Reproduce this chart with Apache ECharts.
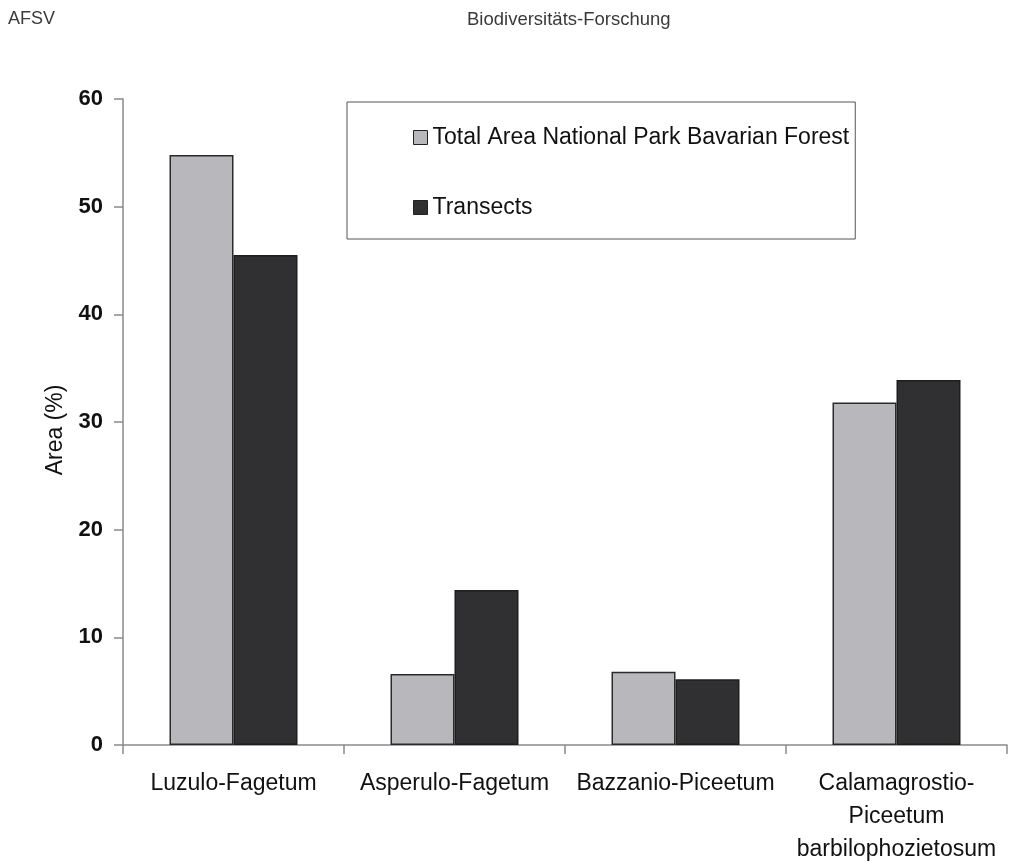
<!DOCTYPE html>
<html>
<head>
<meta charset="utf-8">
<title>Area of forest communities</title>
<script src="https://cdn.jsdelivr.net/npm/echarts@6/dist/echarts.min.js"></script>
<style>
  html, body { margin: 0; padding: 0; background: #ffffff; }
  #chart { width: 1009px; height: 861px; }
</style>
</head>
<body>
<div id="chart"></div>
<script>
// Forest community types (x axis categories)
const categories = [
  'Luzulo-Fagetum',
  'Asperulo-Fagetum',
  'Bazzanio-Piceetum',
  'Calamagrostio-\nPiceetum\nbarbilophozietosum'
];
// Share of area (%) for each community
const totalAreaValues = [54.8, 6.6, 6.8, 31.8];
const transectValues = [45.5, 14.4, 6.1, 33.9];
const seriesNames = ['Total Area National Park Bavarian Forest', 'Transects'];
const yTicks = { min: 0, max: 60, interval: 10 };

const fontFamily = '"Liberation Sans", Arial, Helvetica, sans-serif';

const chart = echarts.init(document.getElementById('chart'), null, { renderer: 'canvas' });

chart.setOption({
  animation: false,
  backgroundColor: '#ffffff',
  textStyle: { fontFamily: fontFamily },
  title: [
    {
      text: 'AFSV', left: 8, top: 10, padding: 0,
      textStyle: { fontSize: 18, fontWeight: 'normal', color: '#3a3a3a', fontFamily: fontFamily }
    },
    {
      text: 'Biodiversitäts-Forschung', left: 467, top: 10, padding: 0,
      textStyle: { fontSize: 18.5, fontWeight: 'normal', color: '#3a3a3a', fontFamily: fontFamily }
    }
  ],
  legend: {
    orient: 'vertical',
    left: 347,
    top: 102,
    padding: [24, 6, 20, 66],
    itemGap: 47,
    itemWidth: 14,
    itemHeight: 14,
    icon: 'rect',
    itemStyle: { borderColor: '#222', borderWidth: 1 },
    borderColor: '#555',
    borderWidth: 1,
    backgroundColor: '#ffffff',
    textStyle: { fontSize: 23, lineHeight: 23, color: '#111', fontFamily: fontFamily },
    data: seriesNames
  },
  grid: { left: 123, right: 2, top: 99, bottom: 116, containLabel: false, outerBoundsMode: 'none' },
  xAxis: {
    type: 'category',
    data: categories,
    axisLine: { show: true, lineStyle: { color: '#8a8a8a', width: 1.5 } },
    axisTick: { show: true, length: 9, lineStyle: { color: '#8a8a8a', width: 1.5 } },
    axisLabel: {
      interval: 0, margin: 22, fontSize: 23, lineHeight: 33, color: '#111', fontFamily: fontFamily
    },
    splitLine: { show: false }
  },
  yAxis: {
    type: 'value',
    min: yTicks.min,
    max: yTicks.max,
    interval: yTicks.interval,
    name: 'Area (%)',
    nameLocation: 'middle',
    nameRotate: 90,
    nameGap: 56,
    nameTextStyle: { fontSize: 23, color: '#111', fontFamily: fontFamily, padding: [0, 16, 0, 0] },
    axisLine: { show: true, lineStyle: { color: '#8a8a8a', width: 1.5 } },
    axisTick: { show: true, length: 9, lineStyle: { color: '#8a8a8a', width: 1.5 } },
    axisLabel: { margin: 20, fontSize: 22, fontWeight: 'bold', color: '#111', fontFamily: fontFamily },
    splitLine: { show: false }
  },
  series: [
    {
      name: seriesNames[0],
      type: 'bar',
      data: totalAreaValues,
      barWidth: 64,
      barGap: '0%',
      itemStyle: { color: '#b8b8bc', borderColor: '#2a2a2a', borderWidth: 1.5 }
    },
    {
      name: seriesNames[1],
      type: 'bar',
      data: transectValues,
      barWidth: 64,
      barGap: '0%',
      itemStyle: { color: '#303032', borderColor: '#1e1e1e', borderWidth: 1.5 }
    }
  ]
});
</script>
</body>
</html>
